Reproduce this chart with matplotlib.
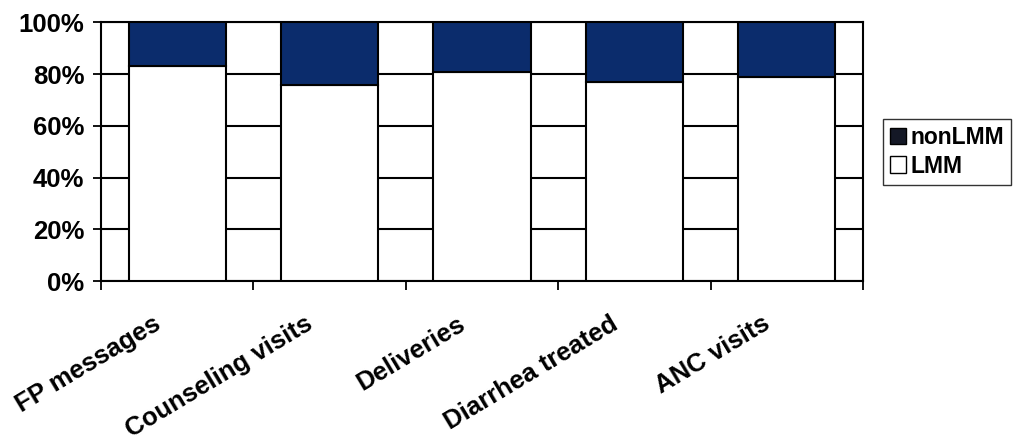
import matplotlib.pyplot as plt
import matplotlib.transforms as mtransforms
import numpy as np
from matplotlib.ticker import PercentFormatter
from matplotlib.patches import Patch

categories = ['FP messages', 'Counseling visits', 'Deliveries', 'Diarrhea treated', 'ANC visits']
lmm = [83, 76, 81, 77, 79]
non_lmm = [100 - v for v in lmm]

DARK = '#0b2c6c'

plt.rcParams['font.family'] = ['Liberation Sans', 'DejaVu Sans']
plt.rcParams['font.weight'] = 'bold'

fig = plt.figure(figsize=(10.13, 4.41), dpi=100)
ax = fig.add_axes([0.0997, 0.3628, 0.7522, 0.5862])

x = np.arange(len(categories)) + 0.5
ax.bar(x, lmm, width=0.637, color='white', edgecolor='black', linewidth=1.5, zorder=3)
ax.bar(x, non_lmm, bottom=lmm, width=0.637, color=DARK, edgecolor='black', linewidth=1.5, zorder=3)

ax.set_xlim(0, len(categories))
ax.set_ylim(0, 100)
ax.set_yticks(np.arange(0, 101, 20))
ax.yaxis.set_major_formatter(PercentFormatter(decimals=0))
ax.yaxis.grid(True, color='black', linewidth=1.5, zorder=1)
ax.set_axisbelow(True)

# category ticks sit on the boundaries, labels at the centres
ax.set_xticks(np.arange(len(categories) + 1))
ax.set_xticklabels([])
ax.set_xticks(x, minor=True)
ax.set_xticklabels(categories, minor=True, rotation=31, ha='right', va='top',
                   rotation_mode='anchor', fontsize=18.5, fontweight='bold')
ax.tick_params(axis='x', which='minor', length=0, pad=22)
ax.tick_params(axis='x', which='major', length=6.5, width=1.3, direction='out')
ax.tick_params(axis='y', length=6, width=1.3, labelsize=18.5, pad=6)

shift = mtransforms.ScaledTranslation(-0.25, 0, fig.dpi_scale_trans)
for lbl in ax.get_xticklabels(minor=True):
    lbl.set_transform(lbl.get_transform() + shift)

for s in ax.spines.values():
    s.set_linewidth(1.5)
    s.set_color('black')

handles = [Patch(facecolor='#141826', edgecolor='black', label='nonLMM'),
           Patch(facecolor='white', edgecolor='black', label='LMM')]
fig.legend(handles=handles, loc='upper left', bbox_to_anchor=(0.8717, 0.730),
           frameon=True, fancybox=False, edgecolor='black', fontsize=16.5,
           handlelength=0.7, handleheight=0.75, handletextpad=0.2,
           borderpad=0.3, labelspacing=0.25, borderaxespad=0)

fig.savefig('out.png', dpi=100)
